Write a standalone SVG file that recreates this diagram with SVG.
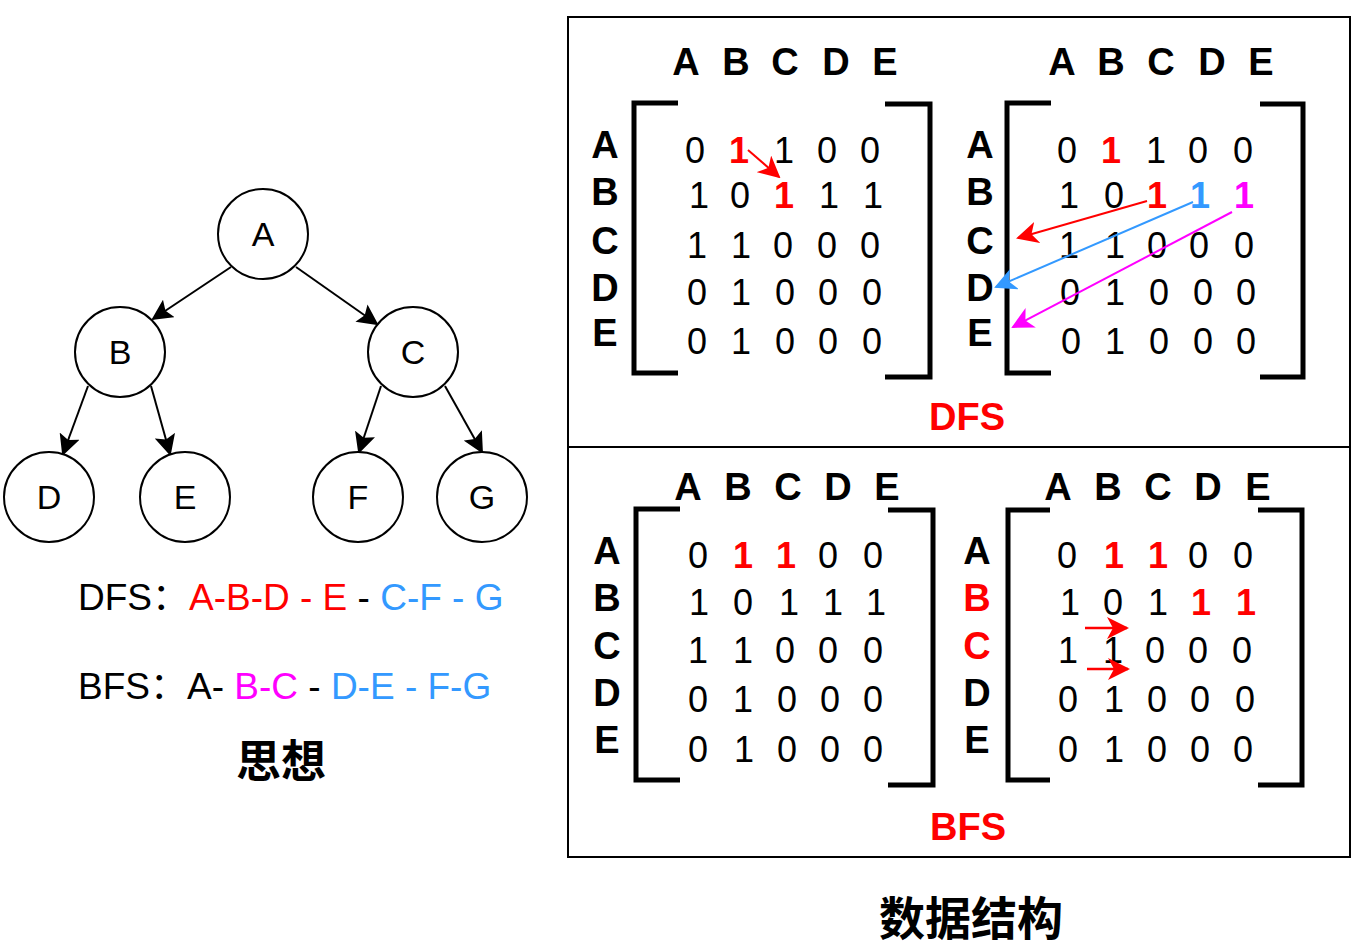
<svg xmlns="http://www.w3.org/2000/svg" width="1362" height="948" viewBox="0 0 1362 948">
<style>
text{font-family:"Liberation Sans","Noto Sans CJK SC",Arial,sans-serif}
.n{font-size:34px;text-anchor:middle}
.h{font-size:38px;font-weight:bold;text-anchor:middle}
.d{font-size:36px;text-anchor:middle}
.b{font-weight:bold}
.r{fill:#FF0000}
.bl{fill:#3399FF}
.m{fill:#FF00FF}
.cj{font-family:"Noto Sans CJK SC","Liberation Sans",sans-serif;font-weight:bold;text-anchor:middle}
.circ{fill:#fff;stroke:#000;stroke-width:2}
.br{fill:none;stroke:#000;stroke-width:5}
.e{fill:none;stroke:#000;stroke-width:2}
</style>
<defs>
<marker id="ak" viewBox="0 0 21 21" refX="19" refY="10.5" markerWidth="21" markerHeight="21" markerUnits="userSpaceOnUse" orient="auto"><path d="M0,0 L21,10.5 L0,21 L4,10.5 Z" fill="#000"/></marker>
<marker id="ar" viewBox="0 0 22 22" refX="20" refY="11" markerWidth="22" markerHeight="22" markerUnits="userSpaceOnUse" orient="auto"><path d="M0,0 L22,11 L0,22 L6,11 Z" fill="#FF0000"/></marker>
<marker id="ab" viewBox="0 0 22 22" refX="20" refY="11" markerWidth="22" markerHeight="22" markerUnits="userSpaceOnUse" orient="auto"><path d="M0,0 L22,11 L0,22 L6,11 Z" fill="#3399FF"/></marker>
<marker id="am" viewBox="0 0 22 22" refX="20" refY="11" markerWidth="22" markerHeight="22" markerUnits="userSpaceOnUse" orient="auto"><path d="M0,0 L22,11 L0,22 L6,11 Z" fill="#FF00FF"/></marker>
</defs>
<rect width="1362" height="948" fill="#fff"/>

<!-- Tree connectors -->
<g id="connectors">
<line class="e" x1="231" y1="267" x2="153" y2="319" marker-end="url(#ak)"/>
<line class="e" x1="296" y1="267" x2="377" y2="324" marker-end="url(#ak)"/>
<line class="e" x1="88" y1="386" x2="63" y2="454" marker-end="url(#ak)"/>
<line class="e" x1="151" y1="386" x2="170" y2="454" marker-end="url(#ak)"/>
<line class="e" x1="381" y1="386" x2="359" y2="452" marker-end="url(#ak)"/>
<line class="e" x1="445" y1="386" x2="482" y2="452" marker-end="url(#ak)"/>
</g>

<g id="nodeA"><circle class="circ" cx="263" cy="234" r="45"/><text class="n" x="263" y="246">A</text></g>
<g id="nodeB"><circle class="circ" cx="120" cy="352" r="45"/><text class="n" x="120" y="364">B</text></g>
<g id="nodeC"><circle class="circ" cx="413" cy="352" r="45"/><text class="n" x="413" y="364">C</text></g>
<g id="nodeD"><circle class="circ" cx="49" cy="497" r="45"/><text class="n" x="49" y="509">D</text></g>
<g id="nodeE"><circle class="circ" cx="185" cy="497" r="45"/><text class="n" x="185" y="509">E</text></g>
<g id="nodeF"><circle class="circ" cx="358" cy="497" r="45"/><text class="n" x="358" y="509">F</text></g>
<g id="nodeG"><circle class="circ" cx="482" cy="497" r="45"/><text class="n" x="482" y="509">G</text></g>

<g id="orders" font-size="37">
<text x="78" y="610">DFS：<tspan class="r">A-B-D - E</tspan> - <tspan class="bl">C-F - G</tspan></text>
<text x="78" y="699">BFS：A- <tspan class="m">B-C</tspan> - <tspan class="bl">D-E - F-G</tspan></text>
</g>
<text class="cj" x="281" y="778" font-size="45">思想</text>

<!-- Data structure panel -->
<g id="panel">
<rect x="568" y="17" width="782" height="840" fill="none" stroke="#000" stroke-width="2"/>
<line x1="568" y1="447" x2="1350" y2="447" stroke="#000" stroke-width="2"/>
</g>

<!-- Matrix 1 (DFS left) -->
<g id="matrix1">
<path class="br" d="M678,103 H634 V373 H678"/>
<path class="br" d="M885,104 H930 V377 H885"/>
<text class="h" y="75"><tspan x="686">A</tspan><tspan x="736">B</tspan><tspan x="785">C</tspan><tspan x="836">D</tspan><tspan x="885">E</tspan></text>
<text class="h" x="605" y="158">A</text><text class="h" x="605" y="205">B</text><text class="h" x="605" y="254">C</text><text class="h" x="605" y="301">D</text><text class="h" x="605" y="346">E</text>
<text class="d" y="163"><tspan x="695">0</tspan><tspan x="739" class="r b">1</tspan><tspan x="784">1</tspan><tspan x="827">0</tspan><tspan x="870">0</tspan></text>
<text class="d" y="208"><tspan x="699">1</tspan><tspan x="740">0</tspan><tspan x="784" class="r b">1</tspan><tspan x="829">1</tspan><tspan x="873">1</tspan></text>
<text class="d" y="258"><tspan x="697">1</tspan><tspan x="741">1</tspan><tspan x="783">0</tspan><tspan x="827">0</tspan><tspan x="870">0</tspan></text>
<text class="d" y="305"><tspan x="697">0</tspan><tspan x="741">1</tspan><tspan x="785">0</tspan><tspan x="828">0</tspan><tspan x="872">0</tspan></text>
<text class="d" y="354"><tspan x="697">0</tspan><tspan x="741">1</tspan><tspan x="785">0</tspan><tspan x="828">0</tspan><tspan x="872">0</tspan></text>
<line x1="748" y1="150" x2="779" y2="177" stroke="#FF0000" stroke-width="2" marker-end="url(#ar)"/>
</g>

<!-- Matrix 2 (DFS right) -->
<g id="matrix2">
<path class="br" d="M1051,103 H1007 V373 H1051"/>
<path class="br" d="M1260,104 H1303 V377 H1260"/>
<text class="h" y="75"><tspan x="1062">A</tspan><tspan x="1111">B</tspan><tspan x="1161">C</tspan><tspan x="1212">D</tspan><tspan x="1261">E</tspan></text>
<text class="h" x="980" y="158">A</text><text class="h" x="980" y="205">B</text><text class="h" x="980" y="254">C</text><text class="h" x="980" y="301">D</text><text class="h" x="980" y="346">E</text>
<text class="d" y="163"><tspan x="1067">0</tspan><tspan x="1111" class="r b">1</tspan><tspan x="1156">1</tspan><tspan x="1198">0</tspan><tspan x="1243">0</tspan></text>
<text class="d" y="208"><tspan x="1069">1</tspan><tspan x="1114">0</tspan><tspan x="1157" class="r b">1</tspan><tspan x="1200" class="bl b">1</tspan><tspan x="1244" class="m b">1</tspan></text>
<text class="d" y="258"><tspan x="1069">1</tspan><tspan x="1115">1</tspan><tspan x="1157">0</tspan><tspan x="1199">0</tspan><tspan x="1244">0</tspan></text>
<text class="d" y="305"><tspan x="1070">0</tspan><tspan x="1115">1</tspan><tspan x="1159">0</tspan><tspan x="1203">0</tspan><tspan x="1246">0</tspan></text>
<text class="d" y="354"><tspan x="1071">0</tspan><tspan x="1115">1</tspan><tspan x="1159">0</tspan><tspan x="1203">0</tspan><tspan x="1246">0</tspan></text>
<line x1="1147" y1="201" x2="1018" y2="238" stroke="#FF0000" stroke-width="2" marker-end="url(#ar)"/>
<line x1="1193" y1="202" x2="996" y2="287" stroke="#3399FF" stroke-width="2" marker-end="url(#ab)"/>
<line x1="1232" y1="212" x2="1013" y2="327" stroke="#FF00FF" stroke-width="2" marker-end="url(#am)"/>
</g>
<text class="h r" x="967" y="430" font-size="36">DFS</text>

<!-- Matrix 3 (BFS left) -->
<g id="matrix3">
<path class="br" d="M680,509 H636 V780 H680"/>
<path class="br" d="M888,510 H933 V785 H888"/>
<text class="h" y="500"><tspan x="688">A</tspan><tspan x="738">B</tspan><tspan x="788">C</tspan><tspan x="838">D</tspan><tspan x="887">E</tspan></text>
<text class="h" x="607" y="564">A</text><text class="h" x="607" y="611">B</text><text class="h" x="607" y="659">C</text><text class="h" x="607" y="706">D</text><text class="h" x="607" y="753">E</text>
<text class="d" y="568"><tspan x="698">0</tspan><tspan x="743" class="r b">1</tspan><tspan x="786" class="r b">1</tspan><tspan x="828">0</tspan><tspan x="873">0</tspan></text>
<text class="d" y="615"><tspan x="699">1</tspan><tspan x="743">0</tspan><tspan x="789">1</tspan><tspan x="833">1</tspan><tspan x="876">1</tspan></text>
<text class="d" y="663"><tspan x="698">1</tspan><tspan x="743">1</tspan><tspan x="785">0</tspan><tspan x="828">0</tspan><tspan x="873">0</tspan></text>
<text class="d" y="712"><tspan x="698">0</tspan><tspan x="743">1</tspan><tspan x="787">0</tspan><tspan x="830">0</tspan><tspan x="873">0</tspan></text>
<text class="d" y="762"><tspan x="698">0</tspan><tspan x="744">1</tspan><tspan x="787">0</tspan><tspan x="830">0</tspan><tspan x="873">0</tspan></text>
</g>

<!-- Matrix 4 (BFS right) -->
<g id="matrix4">
<path class="br" d="M1050,510 H1008 V780 H1050"/>
<path class="br" d="M1258,510 H1302 V785 H1258"/>
<text class="h" y="500"><tspan x="1058">A</tspan><tspan x="1108">B</tspan><tspan x="1158">C</tspan><tspan x="1208">D</tspan><tspan x="1258">E</tspan></text>
<text class="h" x="977" y="564">A</text><text class="h r" x="977" y="611">B</text><text class="h r" x="977" y="659">C</text><text class="h" x="977" y="706">D</text><text class="h" x="977" y="753">E</text>
<text class="d" y="568"><tspan x="1067">0</tspan><tspan x="1114" class="r b">1</tspan><tspan x="1158" class="r b">1</tspan><tspan x="1198">0</tspan><tspan x="1243">0</tspan></text>
<text class="d" y="615"><tspan x="1070">1</tspan><tspan x="1113">0</tspan><tspan x="1158">1</tspan><tspan x="1201" class="r b">1</tspan><tspan x="1246" class="r b">1</tspan></text>
<text class="d" y="663"><tspan x="1068">1</tspan><tspan x="1113">1</tspan><tspan x="1155">0</tspan><tspan x="1198">0</tspan><tspan x="1242">0</tspan></text>
<text class="d" y="712"><tspan x="1068">0</tspan><tspan x="1114">1</tspan><tspan x="1157">0</tspan><tspan x="1200">0</tspan><tspan x="1245">0</tspan></text>
<text class="d" y="762"><tspan x="1068">0</tspan><tspan x="1114">1</tspan><tspan x="1157">0</tspan><tspan x="1200">0</tspan><tspan x="1243">0</tspan></text>
<line x1="1085" y1="628" x2="1127" y2="628" stroke="#FF0000" stroke-width="2.5" marker-end="url(#ar)"/>
<line x1="1087" y1="669" x2="1128" y2="669" stroke="#FF0000" stroke-width="2.5" marker-end="url(#ar)"/>
</g>
<text class="h r" x="968" y="840" font-size="36">BFS</text>

<text class="cj" x="971" y="935" font-size="46">数据结构</text>
</svg>
